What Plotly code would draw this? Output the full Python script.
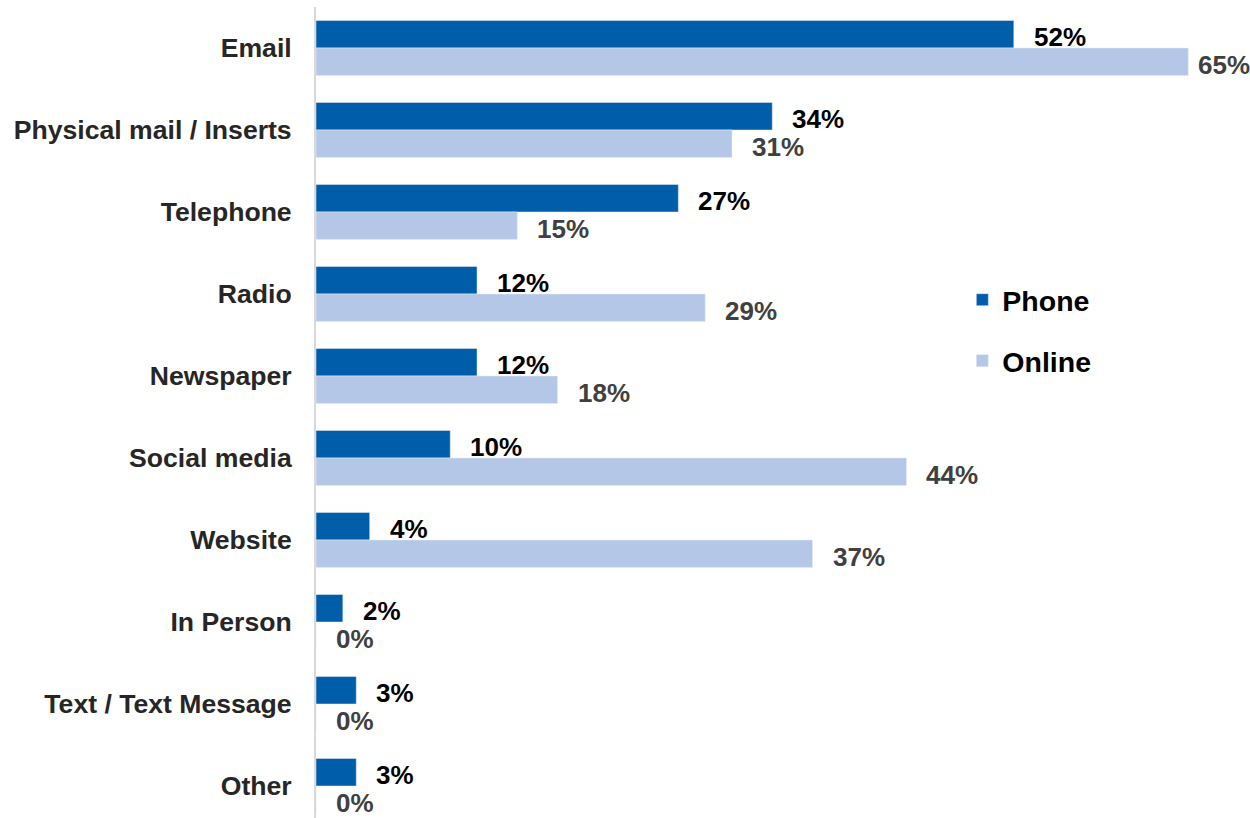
import plotly.graph_objects as go

categories = ["Email", "Physical mail / Inserts", "Telephone", "Radio", "Newspaper",
              "Social media", "Website", "In Person", "Text / Text Message", "Other"]
phone = [52, 34, 27, 12, 12, 10, 4, 2, 3, 3]
online = [65, 31, 15, 29, 18, 44, 37, 0, 0, 0]

PHONE_COLOR = "#005DAA"
ONLINE_COLOR = "#B4C7E7"
FONT = "Liberation Sans, Arial, sans-serif"

W, H = 1250, 818
ML, MT = 316, 7
X_MAX = 69.6
BARGAP = 0.33
half = (1 - BARGAP) / 4  # centre offset of each bar within a group

pos = list(range(len(categories)))

fig = go.Figure()
fig.add_trace(go.Bar(
    name="Phone", y=pos, x=phone, orientation="h",
    marker=dict(color=PHONE_COLOR), legendgroup="p",
))
fig.add_trace(go.Bar(
    name="Online", y=pos, x=online, orientation="h",
    marker=dict(color=ONLINE_COLOR), legendgroup="o",
))

# value labels just past the end of each bar
px_per_unit = (W - ML) / X_MAX
annotations = []
for i, (p, o) in enumerate(zip(phone, online)):
    for val, off, col in ((p, -half, "#000000"), (o, half, "#404040")):
        end_px = ML + val * px_per_unit
        shift = min(18, W - 2 - 52 - end_px)
        annotations.append(dict(
            x=val, y=i + off, xref="x", yref="y", text=f"{val}%",
            showarrow=False, xanchor="left", yanchor="middle",
            xshift=shift, yshift=-3,
            font=dict(family=FONT, size=26, color=col, weight="bold"),
        ))

fig.update_layout(
    width=W, height=H,
    margin=dict(l=ML, r=0, t=MT, b=0),
    paper_bgcolor="white", plot_bgcolor="white",
    barmode="group", bargap=BARGAP, bargroupgap=0,
    font=dict(family=FONT),
    showlegend=True,
    legend=dict(
        x=0.692, y=0.67, xanchor="left", yanchor="top",
        font=dict(family=FONT, size=28.5, color="#000000", weight="bold"),
        traceorder="grouped", tracegroupgap=21,
        bgcolor="rgba(0,0,0,0)",
    ),
    annotations=annotations,
)
fig.update_xaxes(range=[0, X_MAX], visible=False, showgrid=False, zeroline=False)
fig.update_yaxes(
    range=[-0.5 + (H - MT) / 82.0, -0.5],
    tickvals=pos, ticktext=categories,
    tickfont=dict(family=FONT, size=26.6, color="#262626", weight="bold"),
    showgrid=False, zeroline=False,
    showline=True, linecolor="#D9D9D9", linewidth=2,
    ticks="", ticklabelstandoff=17,
)

fig.write_html("out.html")
